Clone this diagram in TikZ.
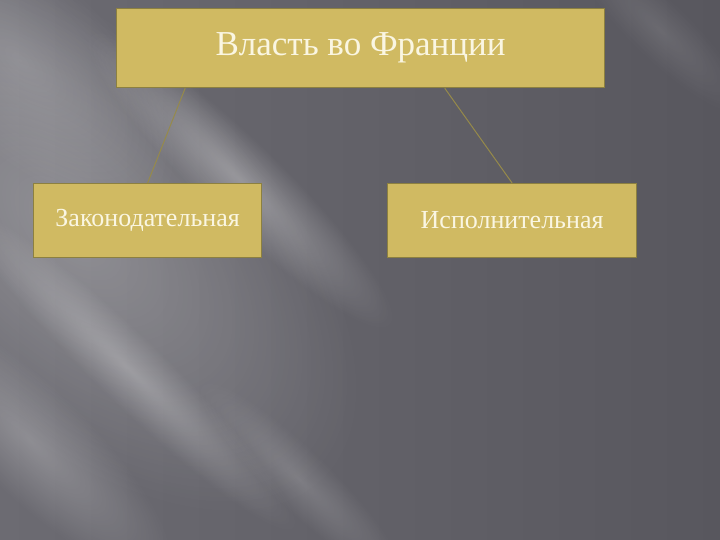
\documentclass[tikz,border=0pt]{standalone}
\usepackage{fontspec}
\setmainfont{Liberation Serif}
\usetikzlibrary{calc,fadings}
\definecolor{boxfill}{RGB}{208,186,98}
\definecolor{boxline}{RGB}{140,128,64}
\definecolor{linkcol}{RGB}{150,138,74}
\definecolor{txt}{RGB}{250,246,226}
\definecolor{bgA}{RGB}{108,107,114}
\definecolor{bgB}{RGB}{88,87,94}
\tikzfading[name=streakfade, inner color=transparent!0, outer color=transparent!100]
\tikzset{
  box/.style={draw=boxline, line width=1.2pt, fill=boxfill, text=txt, inner sep=0pt, anchor=north west},
  link/.style={draw=linkcol, line width=1pt}
}
% soft streak: centre (#1,#2), length #3, width #4, opacity #5
\newcommand{\streak}[5]{%
  \begin{scope}[transform canvas={rotate around={-44:(#1,#2)}}]
    \fill[white, opacity=#5, path fading=streakfade]
      ($(#1,#2)+(-#3,-#4)$) rectangle ($(#1,#2)+(#3,#4)$);
  \end{scope}}
\begin{document}
\begin{tikzpicture}[x=1pt,y=-1pt]
\useasboundingbox (0,0) rectangle (720,540);
% background
\shade[shading angle=120, left color=bgA, right color=bgB] (0,0) rectangle (720,540);
\begin{scope}
\clip (0,0) rectangle (720,540);
\streak{70}{230}{360}{190}{0.26}
\streak{20}{60}{200}{90}{0.18}
\streak{240}{180}{210}{40}{0.30}
\streak{130}{370}{230}{34}{0.26}
\streak{30}{440}{190}{55}{0.24}
\streak{300}{480}{140}{30}{0.16}
\streak{660}{30}{120}{30}{0.10}
\end{scope}
% nodes
\node[box, minimum width=488pt, minimum height=79pt, font=\fontsize{35}{40}\selectfont] (top) at (116,8) {Власть во Франции};
\node[box, minimum width=228pt, minimum height=74pt, font=\fontsize{26}{30}\selectfont] (left) at (33,183) {Законодательная};
\node[box, minimum width=249pt, minimum height=74pt, font=\fontsize{26}{30}\selectfont] (right) at (387,183) {Исполнительная};
% connectors
\draw[link] ($(top.south west)!0.1414!(top.south east)$) -- (left.north);
\draw[link] ($(top.south west)!0.672!(top.south east)$) -- (right.north);
\end{tikzpicture}
\end{document}
